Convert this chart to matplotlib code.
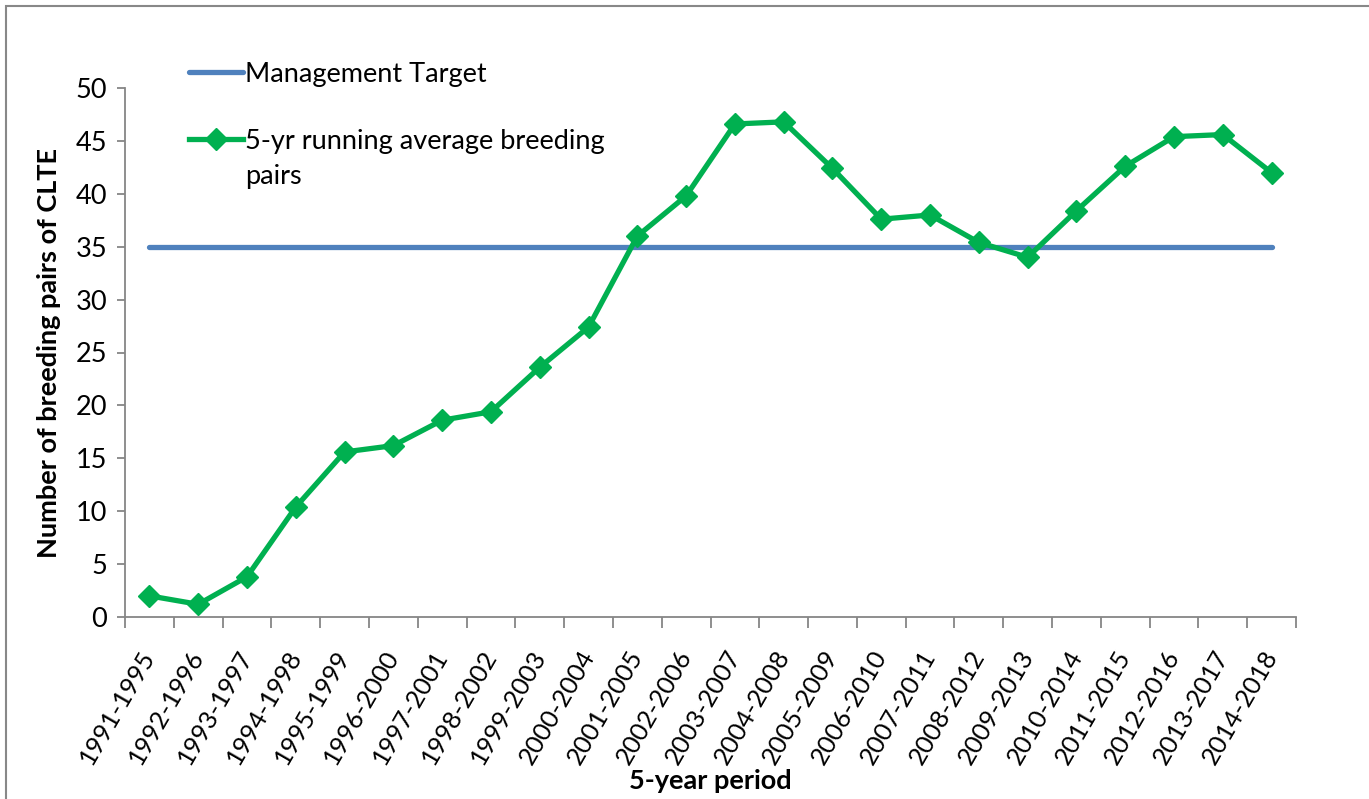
import matplotlib
matplotlib.use("Agg")
import matplotlib.pyplot as plt
import matplotlib.patches as mpatches
import numpy as np

plt.rcParams["font.family"] = ["Lato", "DejaVu Sans"]

# ── data ─────────────────────────────────────────────────────────────────────
periods = [
    "1991-1995", "1992-1996", "1993-1997", "1994-1998", "1995-1999",
    "1996-2000", "1997-2001", "1998-2002", "1999-2003", "2000-2004",
    "2001-2005", "2002-2006", "2003-2007", "2004-2008", "2005-2009",
    "2006-2010", "2007-2011", "2008-2012", "2009-2013", "2010-2014",
    "2011-2015", "2012-2016", "2013-2017", "2014-2018",
]
running_avg = [
    2.0, 1.2, 3.8, 10.4, 15.6, 16.2, 18.6, 19.4, 23.6, 27.4,
    36.0, 39.8, 46.6, 46.8, 42.4, 37.6, 38.0, 35.4, 34.0, 38.4,
    42.6, 45.4, 45.6, 42.0,
]
target = [35] * len(periods)
y_ticks = [0, 5, 10, 15, 20, 25, 30, 35, 40, 45, 50]

# ── style ────────────────────────────────────────────────────────────────────
BLUE = "#4F81BD"
GREEN = "#00B050"
AXIS_GREY = "#868686"
FS = 19.5

fig = plt.figure(figsize=(13.69, 7.99), dpi=100)
ax = fig.add_axes([125 / 1369, 1 - 617 / 799, (1296 - 125) / 1369, (617 - 88) / 799])

x = np.arange(len(periods))
ax.plot(x, target, color=BLUE, lw=3.8, solid_capstyle="round",
        label="Management Target", zorder=2)
ax.plot(x, running_avg, color=GREEN, lw=3.8, marker="D", markersize=11.5,
        label="5-yr running average breeding", zorder=3)

ax.set_xlim(-0.5, len(periods) - 0.5)
ax.set_ylim(0, 50)
ax.set_yticks(y_ticks)
ax.tick_params(axis="y", labelsize=FS, length=6, width=1.3, color=AXIS_GREY, pad=7)

# category labels centred, tick marks on category boundaries
ax.set_xticks(x)
ax.set_xticklabels(periods, rotation=60, ha="right", va="center",
                   rotation_mode="anchor", fontsize=18.3)
ax.tick_params(axis="x", which="major", length=0, pad=25)
ax.set_xticks(np.arange(-0.5, len(periods)), minor=True)
ax.tick_params(axis="x", which="minor", length=8, width=1.3, color=AXIS_GREY)

for side in ("top", "right"):
    ax.spines[side].set_visible(False)
for side in ("left", "bottom"):
    ax.spines[side].set_color(AXIS_GREY)
    ax.spines[side].set_linewidth(1.3)

ax.set_ylabel("Number of breeding pairs of CLTE", fontsize=FS,
              fontweight="bold", labelpad=10)
ax.set_xlabel("5-year period", fontsize=FS, fontweight="bold", labelpad=1)

leg = ax.legend(loc="upper left", bbox_to_anchor=(0.045, 1.07), frameon=False,
                fontsize=FS, handlelength=2.0, handletextpad=0.1,
                labelspacing=1.55, borderaxespad=0)
# second line of the wrapped legend label, handle stays level with first line
# (zorder above the legend so it is drawn once the legend text is placed)
ax.annotate("pairs", xy=(0, 0), xycoords=leg.get_texts()[1],
            xytext=(0, -25), textcoords="offset points",
            ha="left", va="bottom", fontsize=FS, zorder=10)

# outer chart border
fig.patches.append(mpatches.Rectangle(
    (6 / 1369, -0.1), 1.2, 1.1 - 6 / 799, transform=fig.transFigure,
    fill=False, edgecolor="#888888", lw=1.5, zorder=0))

plt.savefig("out.png", dpi=100)
plt.close()
